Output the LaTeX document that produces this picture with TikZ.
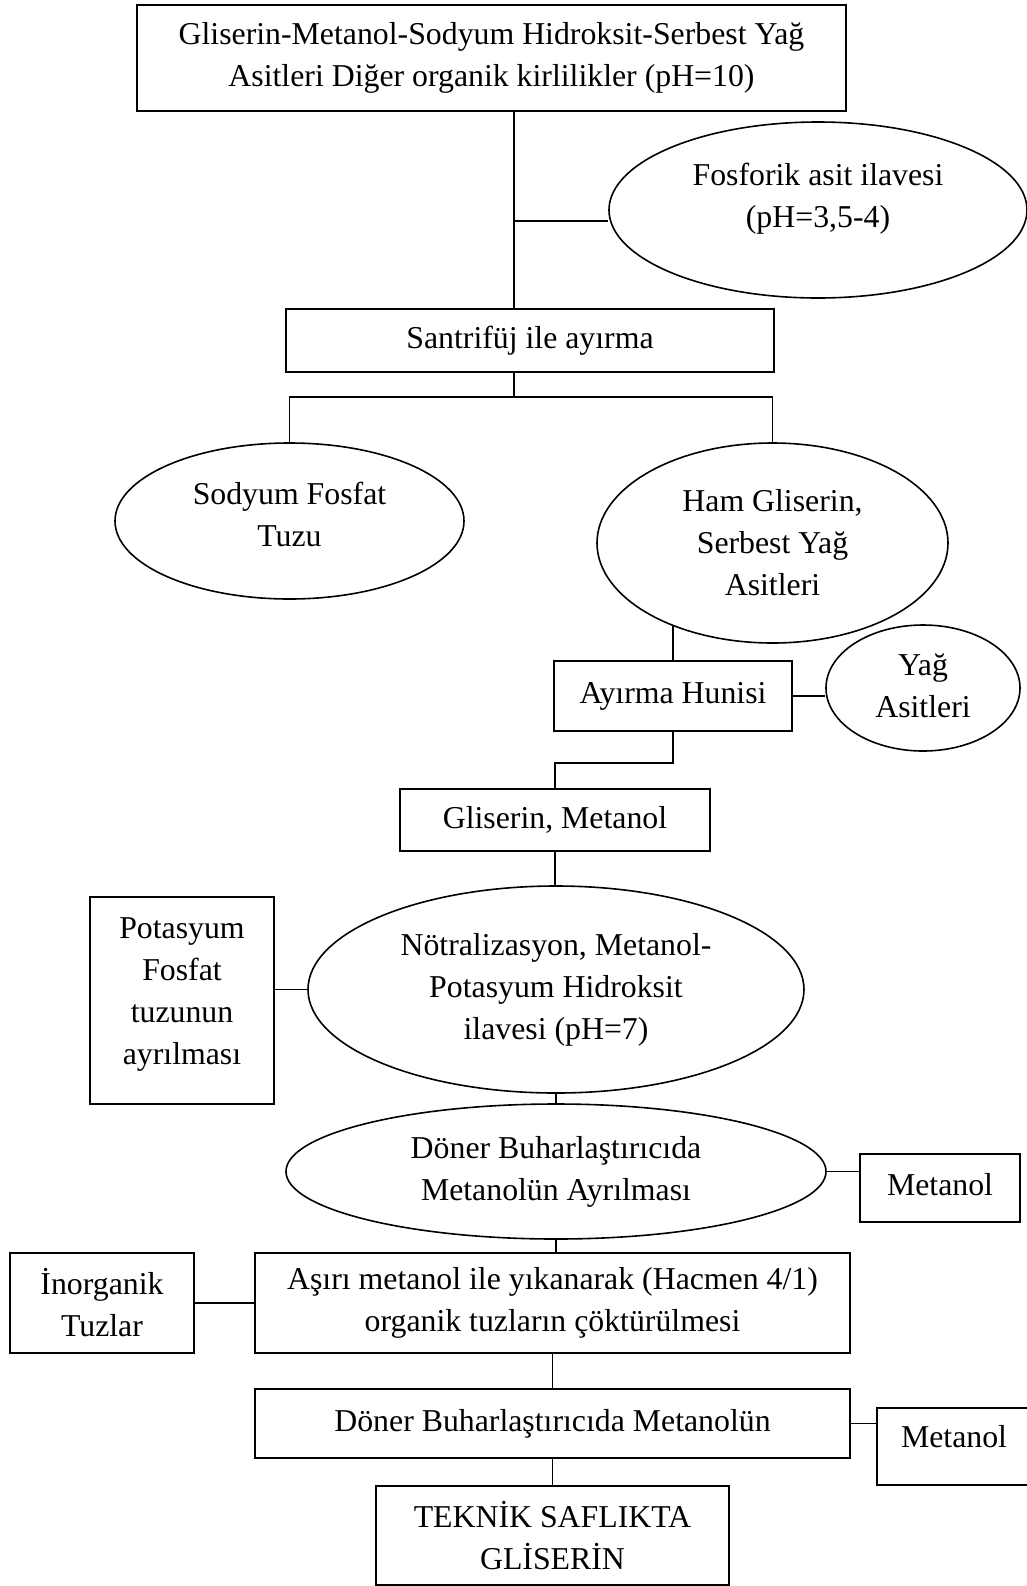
\documentclass[tikz,border=0pt]{standalone}
\usepackage{fontspec}
\setmainfont{Liberation Serif}
\usetikzlibrary{shapes.geometric}
\tikzset{
  flowbox/.style={draw, rectangle, line width=1pt, align=center, inner sep=0pt},
  flowoval/.style={draw, ellipse, line width=0.8pt, align=center, inner sep=0pt},
  sz/.style 2 args={minimum width=#1*0.5pt, minimum height=#2*0.5pt},
}
\begin{document}
\begin{tikzpicture}[x=0.5pt, y=-0.5pt, font=\fontsize{15.9}{21}\selectfont, line width=0.8pt]
  \useasboundingbox (0,0) rectangle (1027,1586);

  \node[flowbox, sz={709}{106}] (top) at (491.5,58) {Gliserin-Metanol-Sodyum Hidroksit-Serbest Yağ\\Asitleri Diğer organik kirlilikler (pH=10)};
  \node[flowoval, sz={418}{176}, text depth=14.4pt] (fos) at (818,210) {Fosforik asit ilavesi\\(pH=3,5-4)};
  \node[flowbox, sz={488}{63}] (santr) at (530,340.5) {Santrifüj ile ayırma};
  \node[flowoval, sz={349}{156}, text depth=7pt] (sod) at (289.5,521) {Sodyum Fosfat\\Tuzu};
  \node[flowoval, sz={351}{200}] (ham) at (772.5,543) {Ham Gliserin,\\Serbest Yağ\\Asitleri};
  \node[flowbox, sz={238}{70}] (ayr) at (673,696) {Ayırma Hunisi};
  \node[flowoval, sz={194}{126}, text depth=2pt] (yag) at (923,688) {Yağ\\Asitleri};
  \node[flowbox, sz={310}{62}] (glis) at (555,820) {Gliserin, Metanol};
  \node[flowbox, sz={184}{207}, text depth=9.5pt] (pot) at (182,1000.5) {Potasyum\\Fosfat\\tuzunun\\ayrılması};
  \node[flowoval, sz={496}{207}] (notr) at (556,989.5) {Nötralizasyon, Metanol-\\Potasyum Hidroksit\\ilavesi (pH=7)};
  \node[flowoval, sz={540}{135}] (doner) at (556,1171.5) {Döner Buharlaştırıcıda\\Metanolün Ayrılması};
  \node[flowbox, sz={160}{68}, text depth=4pt] (met1) at (940,1188) {Metanol};
  \node[flowbox, sz={595}{100}] (asiri) at (552.5,1303) {Aşırı metanol ile yıkanarak (Hacmen 4/1)\\organik tuzların çöktürülmesi};
  \node[flowbox, sz={184}{100}] (inorg) at (102,1303) {İnorganik\\Tuzlar};
  \node[flowbox, sz={595}{69}] (donbox) at (552.5,1423.5) {Döner Buharlaştırıcıda Metanolün};
  \node[flowbox, sz={154}{77}, text depth=10pt] (met2) at (954,1446.5) {Metanol};
  \node[flowbox, sz={353}{99}] (tek) at (552.5,1535.5) {TEKNİK SAFLIKTA\\GLİSERİN};

  \coordinate (j1) at (514,221);
  \coordinate (j2) at (514,397);
  \coordinate (j3) at (614,763);

  \draw (top.south -| j1) -- (santr.north -| j1);
  \draw (j1) -- (fos.west |- j1);
  \draw (santr.south -| j2) -- (j2);
  \draw (sod.north) |- (j2) -| (ham.north);
  \draw (ayr.north) -- (ayr.north |- ham.220);
  \draw (ayr.east) -- (ayr.east -| yag.west);
  \draw (ayr.south) |- (j3) -| (glis.north);
  \draw (glis.south) -- (glis.south |- notr.north);
  \draw (notr.west) -- (notr.west -| pot.east);
  \draw (notr.south) -- (doner.north);
  \draw (doner.east) -- (doner.east -| met1.west);
  \draw (doner.south) -- (doner.south |- asiri.north);
  \draw (inorg.east) -- (asiri.west);
  \draw (asiri.south) -- (donbox.north);
  \draw (donbox.east) -- (donbox.east -| met2.west);
  \draw (donbox.south) -- (tek.north);
\end{tikzpicture}
\end{document}
